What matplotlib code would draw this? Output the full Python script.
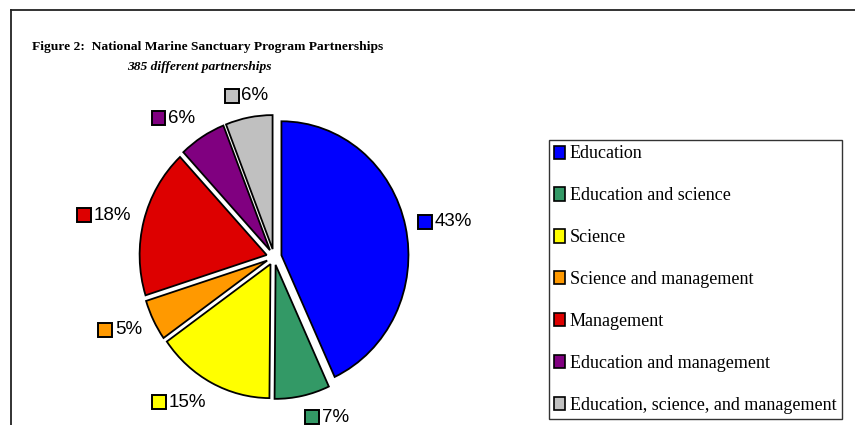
import matplotlib
matplotlib.use("Agg")
import matplotlib.pyplot as plt
import numpy as np
from matplotlib.patches import Rectangle
from matplotlib.offsetbox import HPacker, DrawingArea, TextArea, AnnotationBbox
from matplotlib.lines import Line2D

categories = ["Education", "Education and science", "Science", "Science and management",
              "Management", "Education and management", "Education, science, and management"]
counts = [166, 27, 58, 19, 69, 23, 23]
pct_labels = ["43%", "7%", "15%", "5%", "18%", "6%", "6%"]
colors = ["#0000FF", "#339966", "#FFFF00", "#FF9900", "#DD0000", "#800080", "#C0C0C0"]

title = "Figure 2:  National Marine Sanctuary Program Partnerships"
subtitle = "385 different partnerships"

W, H = 855, 425
fig = plt.figure(figsize=(W / 100, H / 100), dpi=100)

# outer frame (top and left visible)
fig.add_artist(Line2D([11 / W, 11 / W], [0, 1 - 10 / H], color="#222222", lw=1.3))
fig.add_artist(Line2D([11 / W, 1], [1 - 10 / H, 1 - 10 / H], color="#222222", lw=1.3))

# pie axes: centre at (274, 257) px, slightly taller than wide
cx, cy, Rx, Ry = 274, 257, 127, 134
lim = 1.6
aw, ah = 2 * lim * Rx, 2 * lim * Ry
ax = fig.add_axes([(cx - aw / 2) / W, (H - cy - ah / 2) / H, aw / W, ah / H])

explode = [0.06] * len(counts)
wedges, _ = ax.pie(counts, colors=colors, startangle=90, counterclock=False,
                   explode=explode, radius=1.0,
                   wedgeprops=dict(edgecolor="black", linewidth=1.3))
ax.set_aspect("auto")
ax.set_xlim(-lim, lim)
ax.set_ylim(-lim, lim)
ax.axis("off")

for w, lab, col in zip(wedges, pct_labels, colors):
    ang = np.deg2rad((w.theta1 + w.theta2) / 2)
    r0 = 1.16
    c, s = np.cos(ang), np.sin(ang)
    bx = 0.0 if c > 0.2 else (1.0 if c < -0.2 else 0.5)
    by = 0.5 - 0.5 * s
    da = DrawingArea(10, 10, 0, 0)
    da.add_artist(Rectangle((0, 0), 10, 10, facecolor=col, edgecolor="black", linewidth=1.4))
    ta = TextArea(lab, textprops=dict(fontsize=13.5, family="Liberation Sans", color="black"))
    pack = HPacker(children=[da, ta], align="center", pad=0, sep=2)
    ab = AnnotationBbox(pack, (r0 * c, r0 * s), frameon=False, box_alignment=(bx, by),
                        xycoords="data", pad=0, annotation_clip=False)
    ax.add_artist(ab)

fig.text(32 / W, 1 - 47 / H, title, fontsize=9.7, fontweight="bold",
         family="Liberation Serif", ha="left", va="center")
fig.text(199 / W, 1 - 67 / H, subtitle, fontsize=9.7, fontweight="bold", style="italic",
         family="Liberation Serif", ha="center", va="center")

handles = [Rectangle((0, 0), 1, 1, facecolor=c, edgecolor="black", linewidth=1.2) for c in colors]
leg = fig.legend(handles, categories, loc="upper left",
                 bbox_to_anchor=(549 / W, 1 - 140 / H), bbox_transform=fig.transFigure,
                 prop=dict(family="Liberation Serif", size=13), frameon=True,
                 fancybox=False, edgecolor="black", borderaxespad=0,
                 handlelength=0.6, handleheight=0.75, handletextpad=0.25,
                 labelspacing=1.38, borderpad=0.3)
leg.get_frame().set_linewidth(1.0)

fig.savefig("out.png", dpi=100)
